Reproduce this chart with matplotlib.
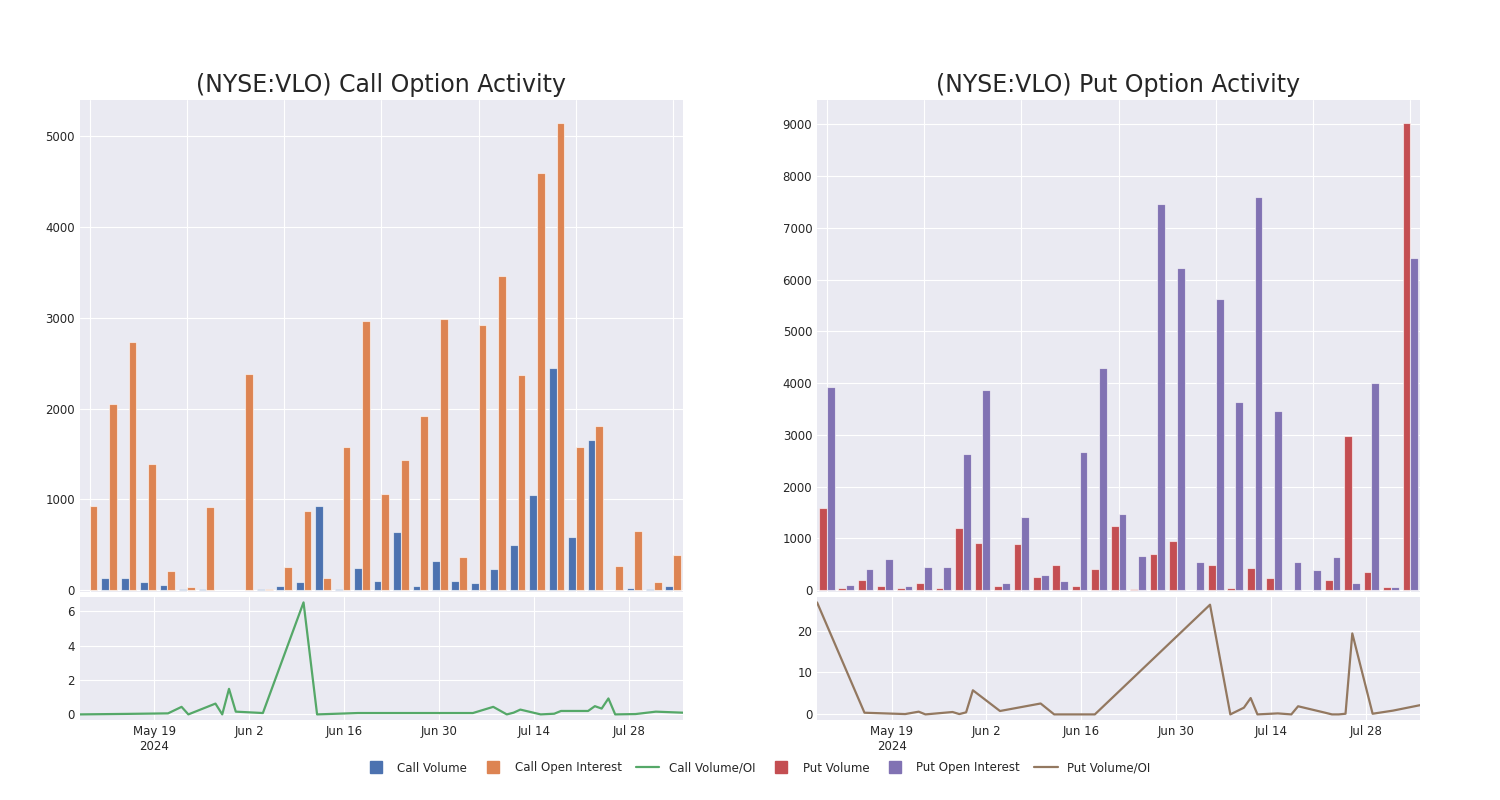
import numpy as np
import pandas as pd
import matplotlib
matplotlib.use("Agg")
import matplotlib.pyplot as plt
from matplotlib.lines import Line2D
from matplotlib.ticker import MultipleLocator

# bar data (one group per expiry, in order)
call_volume = [5, 136, 129, 85, 55, 18, 15, 4, 7, 18, 44, 85, 926, 15, 246, 103,
               643, 44, 316, 96, 74, 232, 496, 1044, 2445, 588, 1651, 0, 22, 11, 44]
call_oi = [926, 2055, 2739, 1386, 213, 40, 912, 6, 2386, 11, 254, 871, 136, 1581,
           2963, 1059, 1438, 1919, 2985, 364, 2923, 3463, 2375, 4592, 5143, 1581,
           1809, 261, 647, 88, 386]
put_volume = [1581, 39, 194, 84, 39, 148, 39, 1206, 910, 90, 884, 258, 490, 77,
              413, 1239, 26, 697, 942, 6, 484, 45, 432, 245, 6, 6, 200, 2987, 355,
              65, 9019]
put_oi = [3929, 97, 400, 600, 90, 452, 439, 2632, 3858, 148, 1406, 290, 181, 2665,
          4284, 1477, 658, 7452, 6226, 548, 5626, 3632, 7587, 3458, 535, 394, 639,
          142, 4006, 71, 6419]

# volume / open interest ratio by date
ratio_dates = ["2024-05-08", "2024-05-15", "2024-05-21", "2024-05-23", "2024-05-24",
               "2024-05-28", "2024-05-29", "2024-05-30", "2024-05-31", "2024-06-04",
               "2024-06-10", "2024-06-12", "2024-06-18", "2024-07-05", "2024-07-08",
               "2024-07-10", "2024-07-11", "2024-07-12", "2024-07-15", "2024-07-17",
               "2024-07-18", "2024-07-22", "2024-07-23", "2024-07-24", "2024-07-25",
               "2024-07-26", "2024-07-29", "2024-08-01", "2024-08-05"]
call_ratio = [0.0, 0.03, 0.06, 0.44, 0.0, 0.63, 0.0, 1.49, 0.16, 0.08, 6.53, 0.0,
              0.08, 0.08, 0.44, 0.0, 0.1, 0.28, 0.0, 0.04, 0.2, 0.2, 0.48, 0.34,
              0.93, 0.0, 0.02, 0.16, 0.1]
put_ratio = [26.7, 0.4, 0.08, 0.65, 0.0, 0.57, 0.08, 0.49, 5.75, 0.81, 2.6, 0.0,
             0.0, 26.15, 0.0, 1.6, 3.9, 0.0, 0.24, 0.0, 1.94, 0.4, 0.0, 0.0, 0.16,
             19.3, 0.16, 0.9, 2.2]

C_BLUE, C_ORANGE, C_GREEN = "#4C72B0", "#DD8452", "#55A868"
C_RED, C_PURPLE, C_BROWN = "#C44E52", "#8172B3", "#937860"

plt.style.use("seaborn-v0_8-darkgrid")
plt.rcParams["font.family"] = "DejaVu Sans"
plt.rcParams["xtick.labelsize"] = 8.5
plt.rcParams["ytick.labelsize"] = 8.5

fig = plt.figure(figsize=(15, 8), dpi=100)


def bar_panel(rect, vol, oi, c1, c2, title, ylim, step):
    ax = fig.add_axes(rect)
    x = np.arange(len(vol))
    ax.bar(x - 0.2, vol, width=0.4, color=c1, edgecolor=(1, 1, 1, 0.6), linewidth=0.8)
    ax.bar(x + 0.2, oi, width=0.4, color=c2, edgecolor=(1, 1, 1, 0.6), linewidth=0.8)
    ax.set_xlim(-0.5, len(vol) - 0.5)
    ax.set_ylim(ylim)
    ax.yaxis.set_major_locator(MultipleLocator(step))
    ax.set_xticks(np.arange(0, len(vol), 5))
    ax.set_xticklabels([])
    ax.set_title(title, fontsize=17, color="#262626")
    return ax


def ratio_panel(rect, vals, color):
    ax = fig.add_axes(rect)
    d = pd.to_datetime(ratio_dates)
    ax.plot(d, vals, color=color, lw=1.6)
    ax.set_xlim(d[0], d[-1])
    ticks = pd.date_range("2024-05-19", "2024-08-04", freq="14D")
    ax.set_xticks(ticks)
    labels = [f"{t:%b} {t.day}" for t in ticks]
    labels[0] += "\n2024"
    ax.set_xticklabels(labels)
    return ax


bar_panel([0.0533, 0.26, 0.402, 0.615], call_volume, call_oi, C_BLUE, C_ORANGE,
          "(NYSE:VLO) Call Option Activity", (-20, 5400), 1000)
ax = ratio_panel([0.0533, 0.10, 0.402, 0.154], call_ratio, C_GREEN)
ax.set_yticks([0, 2, 4, 6])

bar_panel([0.5447, 0.26, 0.402, 0.615], put_volume, put_oi, C_RED, C_PURPLE,
          "(NYSE:VLO) Put Option Activity", (-35, 9470), 1000)
ax = ratio_panel([0.5447, 0.10, 0.402, 0.154], put_ratio, C_BROWN)
ax.set_yticks([0, 10, 20])


def square(c, label):
    return Line2D([], [], color=c, marker="s", markersize=8, linestyle="none", label=label)


handles = [square(C_BLUE, "Call Volume"),
           square(C_ORANGE, "Call Open Interest"),
           Line2D([], [], color=C_GREEN, lw=1.6, label="Call Volume/OI"),
           square(C_RED, "Put Volume"),
           square(C_PURPLE, "Put Open Interest"),
           Line2D([], [], color=C_BROWN, lw=1.6, label="Put Volume/OI")]
fig.legend(handles=handles, loc="center", bbox_to_anchor=(0.505, 0.04), ncol=6,
           frameon=False, fontsize=8.5, columnspacing=1.2)

fig.savefig("out.png", dpi=100)
